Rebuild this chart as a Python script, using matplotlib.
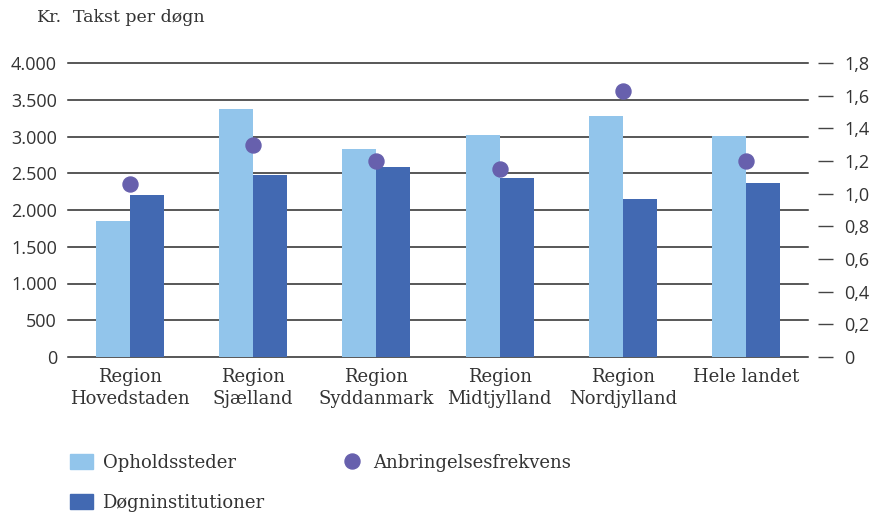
import matplotlib
matplotlib.use("Agg")
import matplotlib.pyplot as plt
import numpy as np
from matplotlib.patches import Patch
from matplotlib.lines import Line2D

categories = ["Region\nHovedstaden", "Region\nSjælland", "Region\nSyddanmark",
              "Region\nMidtjylland", "Region\nNordjylland", "Hele landet"]
opholdssteder = [1850, 3370, 2827, 3017, 3275, 3004]
doegninstitutioner = [2203, 2475, 2583, 2434, 2149, 2366]
anbringelsesfrekvens = [1.06, 1.30, 1.20, 1.15, 1.63, 1.20]
left_ticks = [0, 500, 1000, 1500, 2000, 2500, 3000, 3500, 4000]
left_labels = ["0", "500", "1.000", "1.500", "2.000", "2.500", "3.000", "3.500", "4.000"]
right_ticks = [0, 0.2, 0.4, 0.6, 0.8, 1.0, 1.2, 1.4, 1.6, 1.8]
right_labels = ["0", "0,2", "0,4", "0,6", "0,8", "1,0", "1,2", "1,4", "1,6", "1,8"]

c_light = "#92c5eb"
c_dark = "#4269b2"
c_dot = "#6760ad"
txt = "#333333"
sans = ["Open Sans", "DejaVu Sans"]
serif = ["DejaVu Serif"]

fig = plt.figure(figsize=(8.73, 5.12), dpi=100)
ax = fig.add_axes([68/873, 1-357/512, 740/873, 294/512])
x = np.arange(len(categories))
w = 0.276
ax.bar(x - w/2, opholdssteder, w, color=c_light, zorder=3)
ax.bar(x + w/2, doegninstitutioner, w, color=c_dark, zorder=3)
ax.set_xlim(-0.5, len(categories) - 0.5)
ax.set_ylim(0, 4000)
ax.tick_params(axis="y", length=0, pad=8, labelsize=13)
ax.tick_params(axis="x", length=0, pad=8, labelsize=13)
ax.set_yticks(left_ticks)
ax.set_yticklabels(left_labels, fontfamily=sans, fontsize=13, color=txt)
ax.set_xticks(x)
ax.set_xticklabels(categories, fontfamily=serif, fontsize=13, color=txt, linespacing=1.3)
ax.grid(axis="y", color="#2a2a2a", linewidth=1.1, zorder=0)
for gl in ax.get_ygridlines():
    gl.set_clip_on(False)
for s in ax.spines.values():
    s.set_visible(False)

ax2 = ax.twinx()
ax2.set_ylim(0, 1.8)
ax2.plot(x, anbringelsesfrekvens, "o", color=c_dot, markersize=10.8, zorder=5)
for s in ax2.spines.values():
    s.set_visible(False)
ax2.spines["right"].set_position(("outward", 7.5))
ax2.tick_params(axis="y", direction="out", length=10.8, width=1.0, color="#444444",
                pad=8, labelsize=13, labelcolor=txt)
ax2.set_yticks(right_ticks)
ax2.set_yticklabels(right_labels, fontfamily=sans, fontsize=13, color=txt)
ax.set_zorder(1)
ax2.set_zorder(2)
ax2.patch.set_visible(False)

fig.text(37/873, 1-18/512, "Kr.", fontfamily=serif, fontsize=12.5, color=txt, va="center")
fig.text(73/873, 1-18/512, "Takst per døgn", fontfamily=serif, fontsize=12.5, color=txt, va="center")

handles = [Patch(color=c_light, label="Opholdssteder"),
           Patch(color=c_dark, label="Døgninstitutioner"),
           Line2D([], [], marker="o", linestyle="none", color=c_dot, markersize=10.8,
                  label="Anbringelsesfrekvens")]
leg = fig.legend(handles=handles, loc="upper left", bbox_to_anchor=(70/873, 1-454/512),
                 ncol=2, frameon=False, prop={"family": serif, "size": 13},
                 handlelength=1.3, handleheight=0.9, handletextpad=0.5,
                 columnspacing=4.2, labelspacing=1.2, borderaxespad=0, borderpad=0)
for t in leg.get_texts():
    t.set_color(txt)

fig.savefig("out.png", dpi=100)
